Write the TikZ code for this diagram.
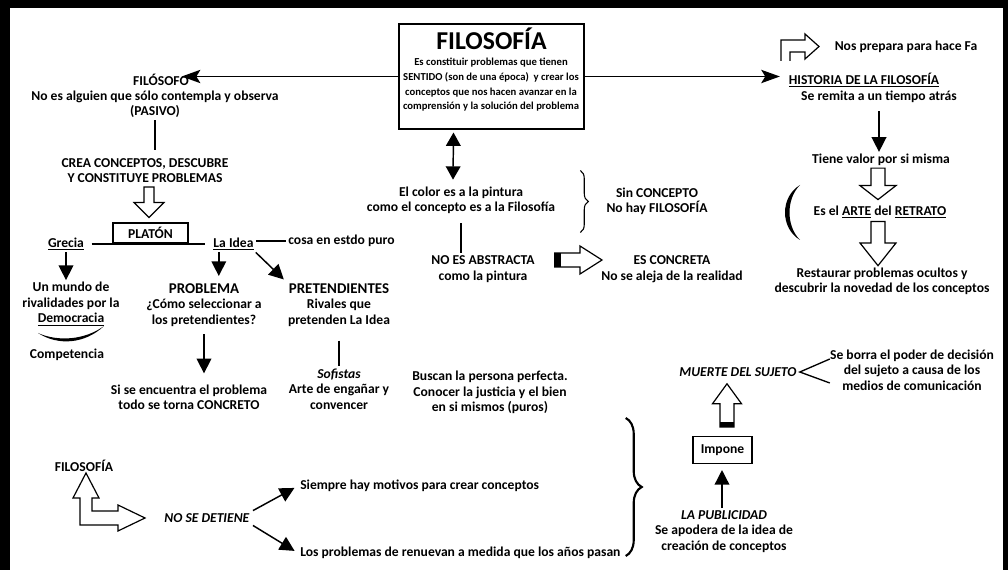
\documentclass[tikz,border=0pt]{standalone}
\usepackage{fontspec}
\setmainfont{Carlito}
\usetikzlibrary{calc, arrows.meta, decorations.pathreplacing}

% a slightly larger size for the two capital headings
\newcommand\bigcaps[1]{{\fontsize{11.2}{12}\selectfont #1}}

\begin{document}
\begin{tikzpicture}[x=0.75pt, y=-0.75pt,
    every node/.style={font=\fontsize{10.2}{11.6}\selectfont\bfseries,
                       align=center, inner sep=1.5pt},
    boxed/.style={draw, line width=0.8pt},
    link/.style={line width=1.5pt},
    outline/.style={line width=0.9pt},
    arrow/.style={line width=1.1pt, -{Triangle[length=11pt, width=11pt]}},
    longarrow/.style={line width=1.1pt, -{Stealth[length=14pt, width=10pt, inset=3pt]}},
    bothways/.style={line width=1.1pt,
      {Triangle[length=10pt, width=11pt]}-{Triangle[length=10pt, width=11pt]}},
    bracket/.style={decorate, decoration={brace, amplitude=#1}},
    hollow/.style n args={3}{draw, fill=white, outline,
      to path={
        let \p1 = ($(\tikztotarget) - (\tikztostart)$),
            \n1 = {atan2(\y1, \x1)},
            \n2 = {veclen(\x1, \y1)}
        in {[shift={(\tikztostart)}, rotate=\n1]
          (0pt, -#1pt) -- ({\n2 - #3pt}, -#1pt) -- ({\n2 - #3pt}, -#2pt)
          -- (\n2, 0pt) -- ({\n2 - #3pt}, #2pt) -- ({\n2 - #3pt}, #1pt)
          -- (0pt, #1pt) -- cycle}}}
  ]

  % Page and the black frame on three sides

  \useasboundingbox (0,0) rectangle (1008,570);
  \fill (0,0) rectangle (1008,8);
  \fill (0,0) rectangle (10,570);
  \fill (1003,0) rectangle (1008,570);

  % The central box

  \node[boxed, minimum width=138.75pt, minimum height=78.75pt] (filo) at (491.5,76.5) {};
  \node[font=\fontsize{19.3}{20}\selectfont\bfseries] (filo-title) at (491.5,38.5) {FILOSOFÍA};
  \node[font=\fontsize{8}{11}\selectfont\bfseries] (filo-text) at (491,85)
    {Es constituir problemas que tienen\\
     SENTIDO (son de una época)\ \ y crear los\\
     conceptos que nos hacen avanzar en la\\
     comprensión y la solución del problema};

  % Left branch: the philosopher and Plato

  \node (filosofo) at (161,80) {FILÓSOFO};
  \node (pasivo) at (155,104.5) {No es alguien que sólo contempla y observa\\(PASIVO)};
  \node (crea) at (145,170.5) {CREA CONCEPTOS, DESCUBRE\\Y CONSTITUYE PROBLEMAS};
  \node[boxed, minimum width=56.25pt, minimum height=15pt, inner sep=0pt] (platon) at (150.5,233) {PLATÓN};
  \node (grecia) at (66,244) {\underline{Grecia}};
  \node (idea) at (233.5,244) {\underline{La Idea}};
  \node (cosa) at (341.5,241) {cosa en estdo puro};
  \node (mundo) at (71,304) {Un mundo de\\rivalidades por la\\\underline{Democracia}};
  \node (competencia) at (67,355) {Competencia};
  \node (problema) at (204,305) {\bigcaps{PROBLEMA}\\¿Cómo seleccionar a\\los pretendientes?};
  \node (concreto) at (189,397.5) {Si se encuentra el problema\\todo se torna CONCRETO};
  \node (pretend) at (339,305) {\bigcaps{PRETENDIENTES}\\Rivales que\\pretenden La Idea};
  \node (sofistas) at (339,389) {\textit{Sofistas}\\Arte de engañar y\\convencer};
  \node (buscan) at (490,392.5) {Buscan la persona perfecta.\\Conocer la justicia y el bien\\en si mismos (puros)};

  % Middle: colour and concept

  \node (color) at (461,200.5) {El color es a la pintura\\como el concepto es a la Filosofía};
  \node (sinconcepto) at (657,201.5) {Sin CONCEPTO\\No hay FILOSOFÍA};
  \node (abstracta) at (483,269) {NO ES ABSTRACTA\\como la pintura};
  \node (concreta) at (672,269) {ES CONCRETA\\No se aleja de la realidad};

  % Right branch: history of philosophy

  \node (nos) at (906,47) {Nos prepara para hace Fa};
  \node (historia) at (864,80) {\underline{HISTORIA DE LA FILOSOFÍA}};
  \node (remita) at (879,97) {Se remita a un tiempo atrás};
  \node (valor) at (881,160) {Tiene valor por si misma};
  \node (arte) at (880,212) {Es el \underline{ARTE} del \underline{RETRATO}};
  \node (restaurar) at (882,281.5) {Restaurar problemas ocultos y\\descubrir la novedad de los conceptos};

  % Bottom: advertising and the death of the subject

  \node (muerte) at (738,372) {\textit{MUERTE DEL SUJETO}};
  \node (borra) at (912,370) {Se borra el poder de decisión\\del sujeto a causa de los\\medios de comunicación};
  \node[boxed, minimum width=44.25pt, minimum height=20.25pt] (impone) at (722.5,450) {Impone};
  \node (publicidad) at (724,531.5) {\textit{LA PUBLICIDAD}\\Se apodera de la idea de\\creación de conceptos};
  \node (filo-bottom) at (84,466) {FILOSOFÍA};
  \node (detiene) at (207,518) {\textit{NO SE DETIENE}};
  \node[anchor=west] (siempre) at (298,486) {Siempre hay motivos para crear conceptos};
  \node[anchor=west] (renuevan) at (298,553) {Los problemas de renuevan a medida que los años pasan};

  % Arrows out of the central box

  \draw[longarrow, shorten >=-7pt] (filo.west) -- (filo.west -| filosofo.east);
  \draw[longarrow, shorten >=5pt] (filo.east) -- (filo.east -| historia.west);
  \coordinate (filo-down) at ($(filo.south)+(-38,3)$);
  \coordinate (color-up) at ($(color.north)+(-8,-5)$);
  \draw[bothways] (filo-down) -- (color-up);

  % Left branch connectors

  \draw[link, shorten >=4.5pt] (pasivo.south) -- (pasivo.south |- crea.north);
  \coordinate (crea-out) at ($(crea.south)+(4,2)$);
  \coordinate (platon-in) at ($(platon.north)+(-1.5,-5)$);
  \draw[hollow={3.75}{11.25}{11.25}] (crea-out) to (platon-in);
  \draw[link, shorten <=4pt, shorten >=5pt] (grecia.east) -- (idea.west);
  \draw[link] (cosa.west -| idea.east) -- (cosa.west);
  \draw[arrow] (grecia.south) -- (grecia.south |- mundo.north);
  \coordinate (idea-down) at ($(idea.south west)!0.17!(idea.south east)$);
  \draw[arrow, shorten >=4pt] (idea-down) -- (idea-down |- problema.north);
  \draw[arrow, shorten >=2pt] (idea.south east) -- (pretend.north west);
  \draw[arrow, shorten <=4pt, shorten >=7pt] (problema.south) -- (problema.south |- concreto.north);
  \draw[link, shorten <=9pt] (pretend.south) -- (pretend.south |- sofistas.north);

  % the smile under Democracia
  \fill (38,333) .. controls (58,346) and (85,344) .. (104,326)
    .. controls (85,340) and (58,342) .. (38,333) -- cycle;

  % Middle connectors

  \draw[bracket=6pt, line width=0.8pt] ($(sinconcepto.west)+(-24,-31)$) -- ($(sinconcepto.west)+(-24,31)$);
  \draw[link, shorten <=5pt] (color.south) -- (color.south |- abstracta.north);
  \coordinate (abstracta-out) at ($(abstracta.east)+(18,-9)$);
  \coordinate (concreta-in) at ($(concreta.west)+(3,-9)$);
  \draw[hollow={5.25}{10.5}{16.5}] (abstracta-out) to (concreta-in);
  \fill ($(abstracta-out)+(0,-7)$) rectangle ($(abstracta-out)+(6,7)$);

  % Right branch connectors

  \draw[outline] (781,61) -- (781,40) -- (805,40) -- (805,34) -- (819,46.5)
    -- (805,59) -- (805,52) -- (790,52) -- (790,61);
  \draw[arrow, shorten <=4.5pt] (remita.south) -- (remita.south |- valor.north);
  \coordinate (valor-out) at ($(valor.south)+(-3,0)$);
  \coordinate (arte-in) at ($(arte.north)+(-2,-4)$);
  \draw[hollow={5.25}{13.5}{10.5}] (valor-out) to (arte-in);
  \coordinate (arte-out) at ($(arte.south)+(-2,1)$);
  \coordinate (restaurar-in) at ($(restaurar.north)+(-4,0)$);
  \draw[hollow={5.25}{13.5}{17}] (arte-out) to (restaurar-in);

  % the big parenthesis in front of the portrait
  \fill (800,185) .. controls (780,197) and (780,228) .. (800,240)
    .. controls (786,226) and (786,199) .. (800,185) -- cycle;

  % Bottom connectors

  \draw[line width=1pt] ($(borra.west)+(2,-11)$) -- ($(muerte.east)+(1,0)$) -- ($(borra.west)+(2,13)$);
  \coordinate (impone-out) at ($(impone.north)+(4.5,-9)$);
  \coordinate (muerte-in) at ($(impone-out |- muerte.south)+(0,5)$);
  \draw[hollow={5.25}{10.9}{15}] (impone-out) to (muerte-in);
  \fill ($(impone-out)+(-7,0)$) rectangle ($(impone-out)+(7,-5)$);
  \coordinate (publicidad-up) at ($(publicidad.north)+(-2,0)$);
  \draw[arrow, shorten >=4.5pt] (publicidad-up) -- (publicidad-up |- impone.south);
  \draw[bracket=12pt, line width=1.6pt] ($(renuevan.east)+(3,-135)$) -- ($(renuevan.east)+(3,3)$);

  % the bent arrow from FILOSOFÍA to NO SE DETIENE
  \draw[outline] (92,498) -- (99,498) -- (86,473) -- (73,498) -- (80,498) -- (80,525)
    -- (118,525) -- (118,531) -- (145,518) -- (118,505) -- (118,511) -- (92,511) -- cycle;
  \draw[arrow, shorten <=1pt, shorten >=3pt] (detiene.north east) -- (siempre.west);
  \draw[arrow, shorten <=1pt, shorten >=3pt] (detiene.south east) -- (renuevan.west);

\end{tikzpicture}
\end{document}
